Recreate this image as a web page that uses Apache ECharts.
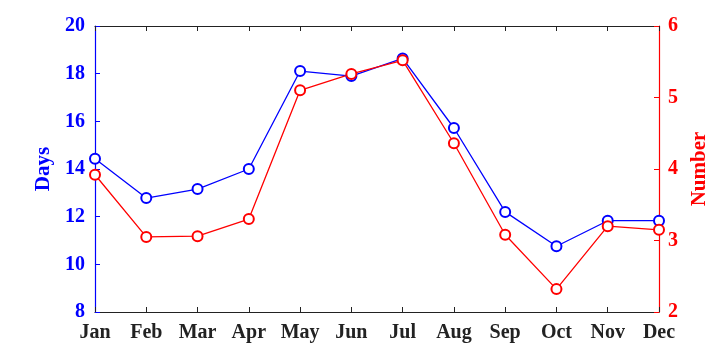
<!DOCTYPE html>
<html>
<head>
<meta charset="utf-8">
<script src="https://cdn.jsdelivr.net/npm/echarts@6/dist/echarts.min.js"></script>
<style>
  html, body { margin: 0; padding: 0; background: #fff; }
  #chart { width: 728px; height: 351px; }
</style>
</head>
<body>
<div id="chart"></div>
<script>
// 月份
var months = ['Jan', 'Feb', 'Mar', 'Apr', 'May', 'Jun', 'Jul', 'Aug', 'Sep', 'Oct', 'Nov', 'Dec'];
// 左轴 Days
var days = [14.43, 12.78, 13.16, 14.0, 18.11, 17.9, 18.64, 15.72, 12.2, 10.76, 11.83, 11.83];
// 右轴 Number
var numbers = [3.92, 3.05, 3.06, 3.3, 5.1, 5.33, 5.52, 4.36, 3.08, 2.32, 3.2, 3.15];

var font = '"Liberation Serif", "Times New Roman", serif';

var myChart = echarts.init(document.getElementById('chart'));
var option = {
  backgroundColor: '#fff',
  animation: false,
  grid: { left: 95, right: 69, top: 26, bottom: 39 },
  xAxis: [{
    type: 'category',
    data: months,
    boundaryGap: false,
    axisLine: { lineStyle: { color: '#222', width: 1.2 } },
    axisTick: { inside: true, length: 5, lineStyle: { color: '#222' } },
    axisLabel: { color: '#222', fontFamily: font, fontWeight: 'bold', fontSize: 20, margin: 11 },
    splitLine: { show: false }
  }, {
    type: 'category',
    data: months,
    position: 'top',
    boundaryGap: false,
    axisLine: { lineStyle: { color: '#222', width: 1.2 } },
    axisTick: { inside: true, length: 5, lineStyle: { color: '#222' } },
    axisLabel: { show: false },
    splitLine: { show: false }
  }],
  yAxis: [{
    type: 'value',
    name: 'Days',
    nameLocation: 'middle',
    nameGap: 38,
    nameTextStyle: { color: '#0000ff', fontFamily: font, fontWeight: 'bold', fontSize: 21 },
    min: 8, max: 20, interval: 2,
    axisLine: { show: true, lineStyle: { color: '#0000ff', width: 1.2 } },
    axisTick: { show: true, inside: true, length: 5, lineStyle: { color: '#0000ff' } },
    axisLabel: { color: '#0000ff', fontFamily: font, fontWeight: 'bold', fontSize: 20, margin: 10 },
    splitLine: { show: false }
  }, {
    type: 'value',
    name: 'Number',
    nameLocation: 'middle',
    nameGap: 28,
    nameRotate: 90,
    nameTextStyle: { color: '#ff0000', fontFamily: font, fontWeight: 'bold', fontSize: 21 },
    min: 2, max: 6, interval: 1,
    axisLine: { show: true, lineStyle: { color: '#ff0000', width: 1.2 } },
    axisTick: { show: true, inside: true, length: 5, lineStyle: { color: '#ff0000' } },
    axisLabel: { color: '#ff0000', fontFamily: font, fontWeight: 'bold', fontSize: 20, margin: 9 },
    splitLine: { show: false }
  }],
  series: [{
    name: 'Days',
    type: 'line',
    data: days,
    yAxisIndex: 0,
    symbol: 'emptyCircle',
    symbolSize: 10,
    lineStyle: { color: '#0000ff', width: 1.3 },
    itemStyle: { color: '#0000ff', borderWidth: 1.2 }
  }, {
    name: 'Number',
    type: 'line',
    data: numbers,
    yAxisIndex: 1,
    symbol: 'emptyCircle',
    symbolSize: 10,
    lineStyle: { color: '#ff0000', width: 1.3 },
    itemStyle: { color: '#ff0000', borderWidth: 1.2 }
  }]
};
myChart.setOption(option);
</script>
</body>
</html>
